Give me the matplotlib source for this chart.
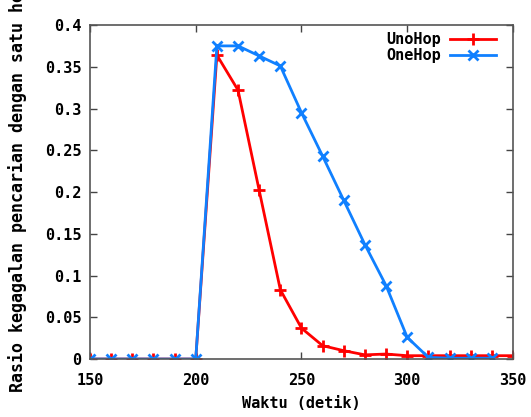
import matplotlib
matplotlib.use('Agg')
import matplotlib.pyplot as plt

# data
waktu = [150, 160, 170, 180, 190, 200, 210, 220, 230, 240, 250,
         260, 270, 280, 290, 300, 310, 320, 330, 340, 350]
unohop = [0, 0, 0, 0, 0, 0, 0.364, 0.322, 0.202, 0.083, 0.037,
          0.016, 0.010, 0.005, 0.006, 0.004, 0.004, 0.004, 0.004, 0.004, 0.004]
onehop_x = [150, 160, 170, 180, 190, 200, 210, 220, 230, 240, 250,
            260, 270, 280, 290, 300, 310, 320, 330, 340]
onehop = [0, 0, 0, 0, 0, 0, 0.375, 0.375, 0.363, 0.351, 0.295,
          0.243, 0.190, 0.137, 0.088, 0.026, 0.002, 0.001, 0.001, 0.001]

xticks = [150, 200, 250, 300, 350]
yticks = [0, 0.05, 0.1, 0.15, 0.2, 0.25, 0.3, 0.35, 0.4]
ylabels = ['0', '0.05', '0.1', '0.15', '0.2', '0.25', '0.3', '0.35', '0.4']

plt.rcParams['font.family'] = ['DejaVu Sans Mono']
plt.rcParams['font.weight'] = 'bold'

fig = plt.figure(figsize=(5.31, 4.17), dpi=100)
ax = fig.add_axes([0.1695, 0.139, 0.7965, 0.801])

ax.plot(waktu, unohop, color='#ff0000', lw=2, marker='+', ms=9, mew=2,
        label='UnoHop')
ax.plot(onehop_x, onehop, color='#1080ff', lw=2, marker='x', ms=7, mew=2,
        label='OneHop')

ax.set_xlim(150, 350)
ax.set_ylim(0, 0.4)
ax.set_xticks(xticks)
ax.set_yticks(yticks)
ax.set_yticklabels(ylabels)
ax.tick_params(direction='in', top=True, right=True, length=5, width=1,
               labelsize=11, color='#444444', pad=6)
ax.tick_params(axis='x', pad=10)
for s in ax.spines.values():
    s.set_color('#555555')
    s.set_linewidth(1.2)

ax.set_xlabel('Waktu (detik)', fontsize=11, fontweight='bold', labelpad=6)
# long label: like the original it runs past the top edge a little
ax.set_ylabel('Rasio kegagalan pencarian dengan satu hop', fontsize=12,
              fontweight='bold')
ax.yaxis.set_label_coords(-0.15, 0.515)

ax.legend(loc='upper right', bbox_to_anchor=(0.976, 1.0), frameon=False,
          fontsize=11, markerfirst=False, handlelength=3.0,
          borderaxespad=0.15, handletextpad=0.6, labelspacing=0.1,
          borderpad=0.3)

fig.savefig('out.png', dpi=100, facecolor='white')
